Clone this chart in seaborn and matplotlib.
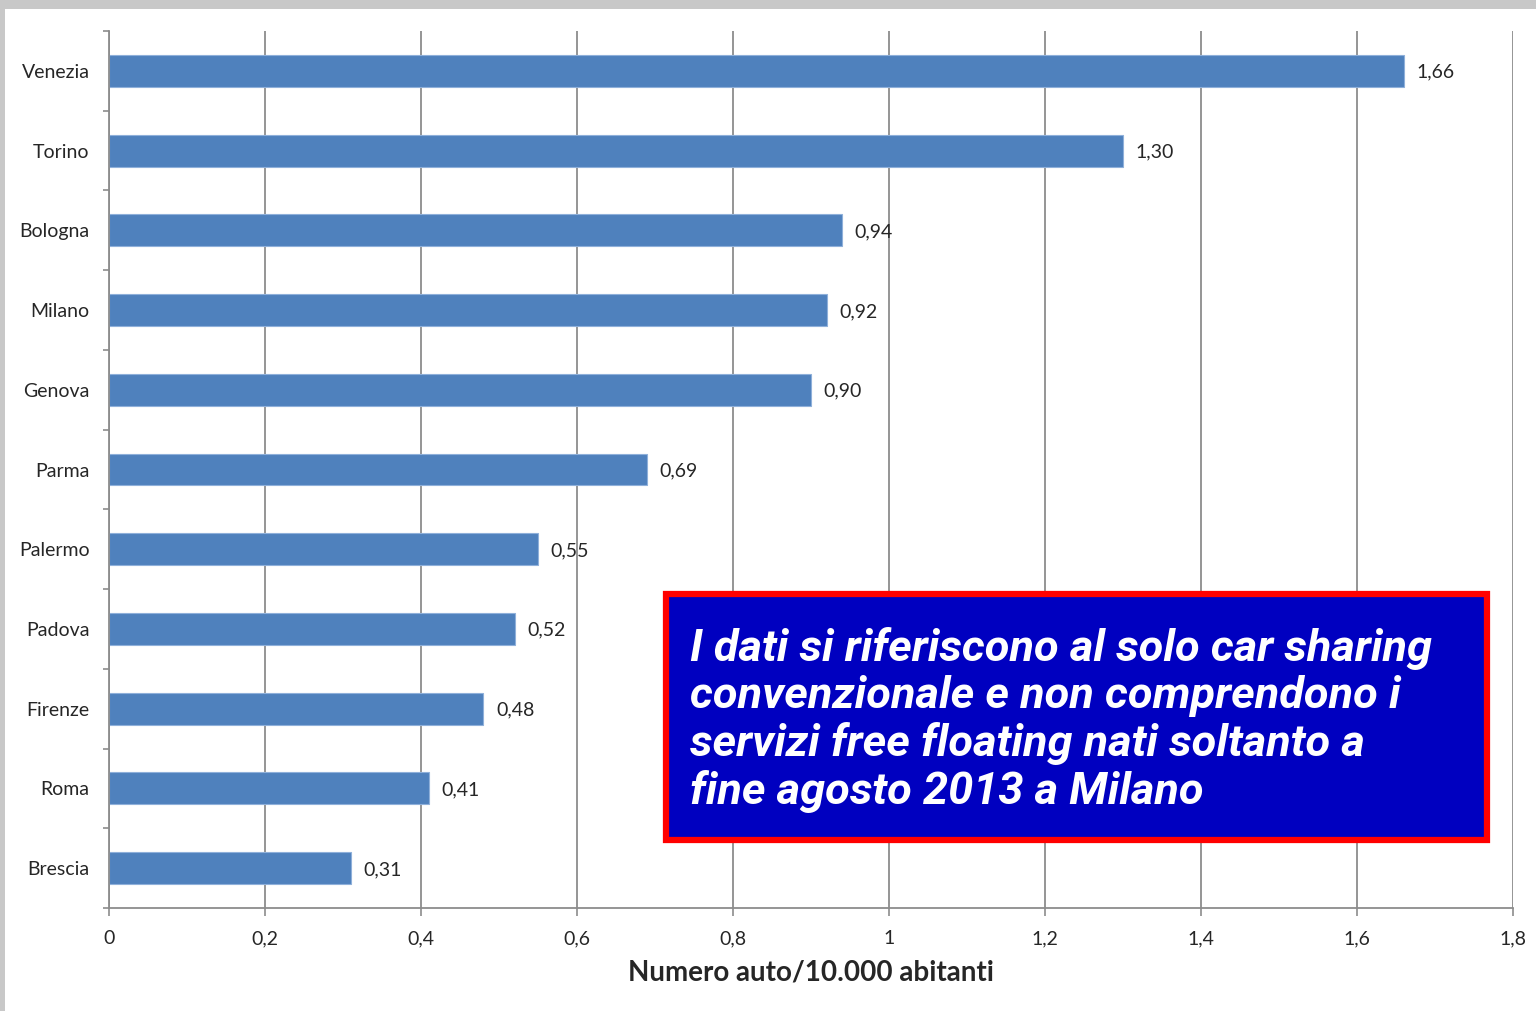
import pandas as pd
from matplotlib import pyplot as plt
from matplotlib.patches import Rectangle
import seaborn as sns

# Dati: auto car sharing ogni 10.000 abitanti
citta = ["Venezia", "Torino", "Bologna", "Milano", "Genova", "Parma",
         "Palermo", "Padova", "Firenze", "Roma", "Brescia"]
valori = [1.66, 1.30, 0.94, 0.92, 0.90, 0.69, 0.55, 0.52, 0.48, 0.41, 0.31]
xticks = [0, 0.2, 0.4, 0.6, 0.8, 1.0, 1.2, 1.4, 1.6, 1.8]

df = pd.DataFrame({"citta": citta, "valore": valori})

sns.set_theme(style="white")
plt.rcParams['font.family'] = ['Lato', 'DejaVu Sans']

fig = plt.figure(figsize=(15.36, 10.11), dpi=100)
ax = fig.add_axes([0.0710, 0.1019, 0.914, 0.8674])

sns.barplot(ax=ax, data=df, x="valore", y="citta", orient="h",
            color="#4F81BD", saturation=1, width=0.4,
            edgecolor="#8FB0DA", linewidth=0.8)

ax.set_xlim(0, 1.8)
ax.set_ylim(len(citta) - 0.5, -0.5)
ax.set_xticks(xticks)
ax.set_xticklabels([("%g" % t).replace(".", ",") for t in xticks], fontsize=14)
ax.grid(axis="x", color="#8C8C8C", linewidth=1.3)
ax.set_axisbelow(True)

# tick di categoria sui bordi, come in Excel
ax.set_yticks([i - 0.5 for i in range(len(citta) + 1)], minor=True)
ax.tick_params(axis="y", which="major", length=0, pad=14, labelsize=14)
ax.tick_params(axis="y", which="minor", left=True, length=4, width=1.2, color="#8C8C8C")
ax.tick_params(axis="x", which="major", bottom=True, length=6, width=1.2,
               color="#8C8C8C", pad=10)

for s in ["top", "right"]:
    ax.spines[s].set_visible(False)
for s in ["left", "bottom"]:
    ax.spines[s].set_color("#8C8C8C")
    ax.spines[s].set_linewidth(1.3)

for i, v in enumerate(valori):
    ax.annotate(("%.2f" % v).replace(".", ","), (v, i), xytext=(9, -1),
                textcoords="offset points", va="center", ha="left", fontsize=14)

ax.set_ylabel("")
ax.set_xlabel("Numero auto/10.000 abitanti", fontsize=20, fontweight="bold", labelpad=9)

# riquadro di nota
fig.patches.append(Rectangle((0.4335, 0.1695), 0.5345, 0.2425, transform=fig.transFigure,
                             facecolor="#0000C0", edgecolor="#FF0000", linewidth=4.5,
                             zorder=5))
fig.text(0.449, 0.2878,
         "I dati si riferiscono al solo car sharing\n"
         "convenzionale e non comprendono i\n"
         "servizi free floating nati soltanto a\n"
         "fine agosto 2013 a Milano",
         family="Roboto", fontsize=32.5, fontweight="bold", style="italic",
         color="white", va="center", ha="left", linespacing=1.15, zorder=6)

# bordo grigio della finestra
fig.patches.append(Rectangle((0, 0.991), 1, 0.009, transform=fig.transFigure,
                             facecolor="#C8C8C8", edgecolor="none"))
fig.patches.append(Rectangle((0, 0), 0.0035, 1, transform=fig.transFigure,
                             facecolor="#C8C8C8", edgecolor="none"))

plt.savefig("out.png", dpi=100)
